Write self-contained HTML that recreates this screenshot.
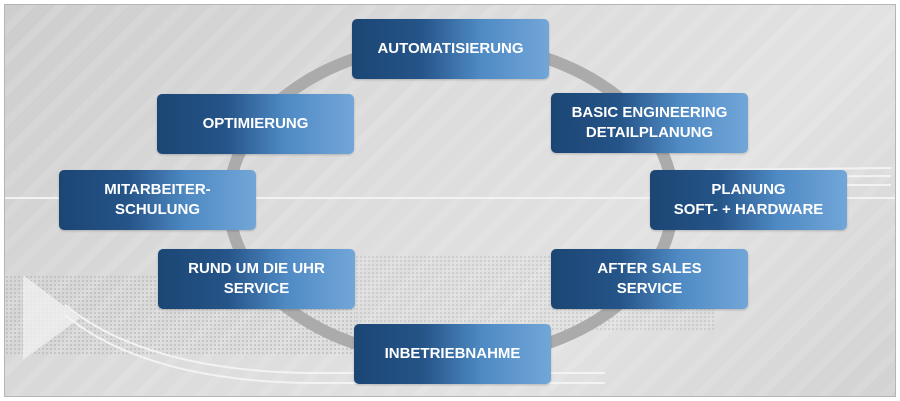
<!DOCTYPE html>
<html><head><style>
body{margin:0;width:900px;height:401px;overflow:hidden;background:#fff;}
#f{position:absolute;left:4px;top:4px;width:890px;height:391px;border:1px solid #b5b5b5;overflow:hidden;
background:linear-gradient(135deg,#cdcdcd 0%,#dcdcdc 40%,#e2e2e2 70%,#d2d2d2 100%);}
#stripes{position:absolute;inset:0;background:repeating-linear-gradient(135deg,rgba(255,255,255,0) 0 14px,rgba(255,255,255,.1) 14px 22px);}
.dots{position:absolute;background-image:radial-gradient(circle,#ababab 0.8px,transparent 1.1px);background-size:4px 4px;opacity:.6;}
.b{position:absolute;width:197px;height:60px;border-radius:5px;background:linear-gradient(90deg,#1b4674 0%,#255488 35%,#4f8ac4 65%,#72a6d8 100%);
color:#fff;font:bold 15px "Liberation Sans",sans-serif;display:flex;align-items:center;justify-content:center;text-align:center;line-height:20px;box-shadow:0 1px 2px rgba(0,0,0,.2);}
</style></head><body>
<div id="f">
<div id="stripes"></div>
<div class="dots" style="left:0;top:270px;width:350px;height:80px"></div>
<div class="dots" style="left:350px;top:250px;width:360px;height:75px;opacity:.45"></div>
<svg width="890" height="391" style="position:absolute;left:0;top:0">
<line x1="0" y1="193" x2="890" y2="193" stroke="#f2f2f2" stroke-width="2"/>
<polygon points="18,270 75,313 18,355" fill="#f0f0f0" opacity=".8"/>
<path d="M60,310 Q140,375 300,378 L600,378" stroke="#f3f3f3" stroke-width="2" fill="none"/>
<path d="M60,300 Q140,365 300,368 L600,368" stroke="#f3f3f3" stroke-width="2" fill="none"/>
<path d="M700,165 L886,163 M700,172 L886,171 M700,180 L886,180" stroke="#f3f3f3" stroke-width="2" fill="none"/>
<ellipse cx="446" cy="196" rx="222" ry="158" fill="none" stroke="#ababab" stroke-width="12"/>
</svg>
<div class="b" style="left:347px;top:14px">AUTOMATISIERUNG</div>
<div class="b" style="left:152px;top:89px">OPTIMIERUNG</div>
<div class="b" style="left:546px;top:88px">BASIC ENGINEERING<br>DETAILPLANUNG</div>
<div class="b" style="left:54px;top:165px">MITARBEITER-<br>SCHULUNG</div>
<div class="b" style="left:645px;top:165px">PLANUNG<br>SOFT- + HARDWARE</div>
<div class="b" style="left:153px;top:244px">RUND UM DIE UHR<br>SERVICE</div>
<div class="b" style="left:546px;top:244px">AFTER SALES<br>SERVICE</div>
<div class="b" style="left:349px;top:319px">INBETRIEBNAHME</div>
</div>
</body></html>
